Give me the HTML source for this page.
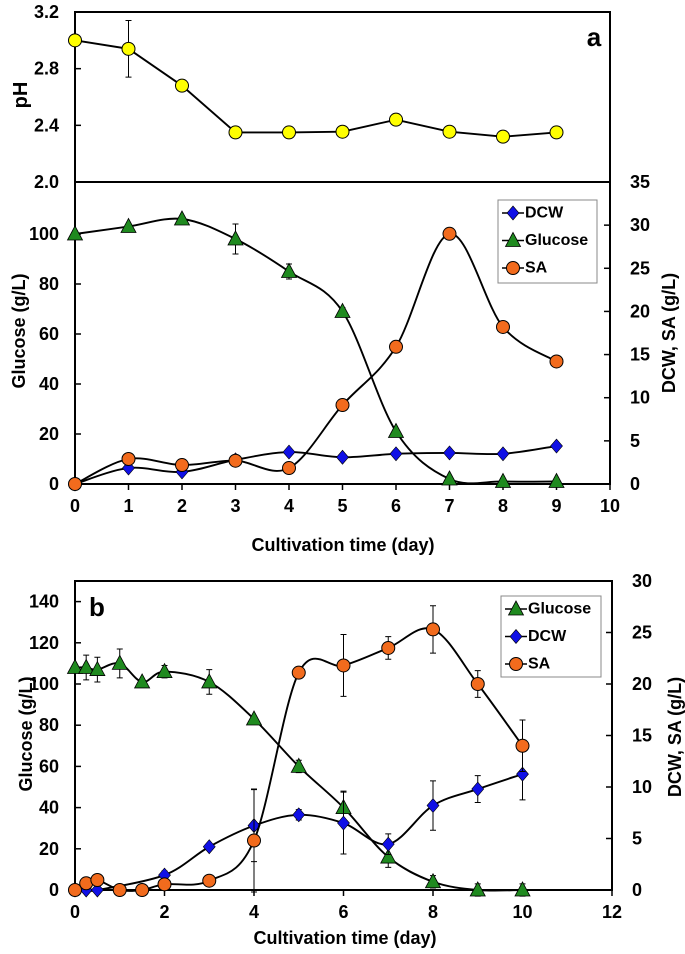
<!DOCTYPE html>
<html><head><meta charset="utf-8"><style>
html,body{margin:0;padding:0;background:#fff}
svg{display:block;font-family:"Liberation Sans",Arial,sans-serif;font-weight:bold}
</style></head><body>
<svg id="c" width="685" height="954" viewBox="0 0 685 954" xmlns="http://www.w3.org/2000/svg"></svg>
<script>
// ---- Panel a data ----
const daysA = [0,1,2,3,4,5,6,7,8,9];
const phA = [3.0,2.94,2.68,2.35,2.35,2.355,2.44,2.355,2.32,2.35];
const phErrA = [0,0.2,0,0,0,0,0,0,0.04,0];
const glucoseA = [100,103,106,98,85,69,21,2,1,1];
const glucoseErrA = [0,0,0,6,3,1.5,0,0,0,0];
const dcwA = [0,1.85,1.4,2.8,3.7,3.1,3.5,3.6,3.5,4.4];
const saA = [0,2.9,2.2,2.7,1.85,9.15,15.9,29,18.2,14.2];
const phTicks = [2.0,2.4,2.8,3.2];
const glucTicksA = [0,20,40,60,80,100];
const rightTicksA = [0,5,10,15,20,25,30,35];
const xTicksA = [0,1,2,3,4,5,6,7,8,9,10];
// ---- Panel b data ----
const glucDaysB = [0,0.25,0.5,1,1.5,2,3,4,5,6,7,8,9,10];
const glucoseB = [108,108,107,110,101,106,101,83,60,40,16,4,0,0];
const glucoseErrB = [0,6,6,7,0,3,6,0,3,8,5,3,3,3];
const dcwDaysB = [0,0.25,0.5,2,3,4,5,6,7,8,9,10];
const dcwB = [0,0,0,1.45,4.2,6.25,7.3,6.5,4.45,8.2,9.8,11.25];
const dcwErrB = [0,0,0,0.4,0,3.5,0.5,3,1,2.4,1.3,2.5];
const saDaysB = [0,0.25,0.5,1,1.5,2,3,4,5,6,7,8,9,10];
const saB = [0,0.65,0.97,0,0,0.55,0.9,4.8,21.1,21.8,23.5,25.3,20,14];
const saErrB = [0,0,0,0,0,0,0,5,0,3,1.1,2.3,1.3,2.5];
const glucTicksB = [0,20,40,60,80,100,120,140];
const rightTicksB = [0,5,10,15,20,25,30];
const xTicksB = [0,2,4,6,8,10,12];

const svg = document.getElementById('c');
const NS = 'http://www.w3.org/2000/svg';
function mk(tag, attrs, parent){
  const e = document.createElementNS(NS, tag);
  for (const k in attrs) e.setAttribute(k, attrs[k]);
  (parent||svg).appendChild(e);
  return e;
}
function txt(x,y,s,size,anchor,name,rot){
  const t = mk('text',{x:x,y:y,'font-size':size,'text-anchor':anchor||'middle','dominant-baseline':'central',fill:'#000'});
  if(rot!==undefined) t.setAttribute('transform','rotate('+rot+' '+x+' '+y+')');
  t.textContent = s;
  
  
  return t;
}
function lin(d0,d1,p0,p1){ return v => p0 + (v-d0)/(d1-d0)*(p1-p0); }
function smooth(pts){
  let d = 'M'+pts[0][0]+','+pts[0][1];
  for(let i=0;i<pts.length-1;i++){
    const p0=pts[i-1]||pts[i], p1=pts[i], p2=pts[i+1], p3=pts[i+2]||p2;
    const t=0.5/3*1.0;
    const c1=[p1[0]+(p2[0]-p0[0])*t, p1[1]+(p2[1]-p0[1])*t];
    const c2=[p2[0]-(p3[0]-p1[0])*t, p2[1]-(p3[1]-p1[1])*t];
    d+=' C'+c1[0]+','+c1[1]+' '+c2[0]+','+c2[1]+' '+p2[0]+','+p2[1];
  }
  return d;
}
function marker(type,x,y,name){
  let e;
  if(type==='circle-y') e=mk('circle',{cx:x,cy:y,r:6.5,fill:'#ffff00',stroke:'#000','stroke-width':1});
  else if(type==='circle-o') e=mk('circle',{cx:x,cy:y,r:6.5,fill:'#f26b1d',stroke:'#000','stroke-width':1});
  else if(type==='tri') e=mk('polygon',{points:(x)+','+(y-8)+' '+(x-7.5)+','+(y+6)+' '+(x+7.5)+','+(y+6),fill:'#1f8a1f',stroke:'#000','stroke-width':0.8});
  else e=mk('polygon',{points:x+','+(y-7)+' '+(x+6)+','+y+' '+x+','+(y+7)+' '+(x-6)+','+y,fill:'#1010e6',stroke:'#000','stroke-width':0.6});
  
  
}
function errbar(x,y0,y1,name){
  const g = mk('path',{d:'M'+x+','+y0+'V'+y1+'M'+(x-3)+','+y0+'H'+(x+3)+'M'+(x-3)+','+y1+'H'+(x+3),stroke:'#000','stroke-width':1,fill:'none'});
  
  
}
function series(xs,ys,errs,sx,sy,type,name,curve){
  const pts = xs.map((d,i)=>[sx(d),sy(ys[i])]);
  const p = mk('path',{d: curve? smooth(pts) : 'M'+pts.map(p=>p.join(',')).join('L'), stroke:'#000','stroke-width':1.9,fill:'none'});
  
  
  xs.forEach((d,i)=>{ if(errs && errs[i]>0) errbar(sx(d),sy(ys[i]+errs[i]),sy(ys[i]-errs[i]),name+'-error-bar'); });
  xs.forEach((d,i)=>marker(type,sx(d),sy(ys[i]),name+'-point'));
}
function frame(x0,y0,x1,y1,name){
  const r = mk('rect',{x:x0,y:y0,width:x1-x0,height:y1-y0,fill:'none',stroke:'#000','stroke-width':2});
  
  
}
function legend(x0,y0,x1,y1,items,name){
  const r = mk('rect',{x:x0,y:y0,width:x1-x0,height:y1-y0,fill:'#fff',stroke:'#888','stroke-width':1});
  
  
  items.forEach((it,i)=>{
    const y = y0+13+i*27.5;
    const l = mk('line',{x1:x0+4,y1:y,x2:x0+26,y2:y,stroke:'#000','stroke-width':1.5});
    
    
    marker(it[1],x0+15,y,'legend-marker');
    txt(x0+27,y,it[0],16,'start','legend-entry-'+it[0].toLowerCase());
  });
}

// ===== Panel a =====
const XA0=75, XA1=610;
const sxA = lin(0,10,XA0,XA1);
const syPh = lin(2.0,3.2,182,12);
const syGA = lin(0,120.8,484,182);
const syRA = lin(0,35,484,182);
frame(XA0,12,XA1,484,'panel-a-frame');
mk('line',{x1:XA0,y1:182,x2:XA1,y2:182,stroke:'#000','stroke-width':2});
phTicks.forEach(v=>{ mk('line',{x1:XA0,y1:syPh(v),x2:XA0+6,y2:syPh(v),stroke:'#000','stroke-width':1.5}); if(v>2.0) txt(59,syPh(v),v.toFixed(1),18,'end','ph-tick-label'); });
txt(59,182,'2.0',18,'end','ph-tick-label');
glucTicksA.forEach(v=>{ mk('line',{x1:XA0,y1:syGA(v),x2:XA0+6,y2:syGA(v),stroke:'#000','stroke-width':1.5}); txt(59,syGA(v),String(v),18,'end','glucose-tick-label'); });
rightTicksA.forEach(v=>{ mk('line',{x1:XA1,y1:syRA(v),x2:XA1-6,y2:syRA(v),stroke:'#000','stroke-width':1.5}); txt(630,syRA(v),String(v),18,'start','right-tick-label'); });
xTicksA.forEach(v=>{ mk('line',{x1:sxA(v),y1:484,x2:sxA(v),y2:490,stroke:'#000','stroke-width':1.5}); txt(sxA(v),506,String(v),18,'middle','x-tick-label'); });
txt(21,95,'pH',20,'middle','ph-axis-title',-90);
txt(19,331,'Glucose (g/L)',18,'middle','glucose-axis-title',-90);
txt(669,333,'DCW, SA (g/L)',18,'middle','right-axis-title',-90);
txt(343,545,'Cultivation time (day)',18,'middle','x-axis-title');
txt(594,37,'a',26,'middle','panel-label-a');
series(daysA,phA,phErrA,sxA,syPh,'circle-y','ph',false);
series(daysA,glucoseA,glucoseErrA,sxA,syGA,'tri','glucose-a',true);
series(daysA,dcwA,null,sxA,syRA,'dia','dcw-a',true);
series(daysA,saA,null,sxA,syRA,'circle-o','sa-a',true);
legend(498,200,597,283,[['DCW','dia'],['Glucose','tri'],['SA','circle-o']],'legend-a');

// ===== Panel b =====
const XB0=75, XB1=612;
const sxB = lin(0,12,XB0,XB1);
const syGB = lin(0,150,890,581);
const syRB = lin(0,30,890,581);
frame(XB0,581,XB1,890,'panel-b-frame');
glucTicksB.forEach(v=>{ mk('line',{x1:XB0,y1:syGB(v),x2:XB0+6,y2:syGB(v),stroke:'#000','stroke-width':1.5}); txt(59,syGB(v),String(v),18,'end','glucose-tick-label'); });
rightTicksB.forEach(v=>{ mk('line',{x1:XB1,y1:syRB(v),x2:XB1-6,y2:syRB(v),stroke:'#000','stroke-width':1.5}); txt(632,syRB(v),String(v),18,'start','right-tick-label'); });
xTicksB.forEach(v=>{ mk('line',{x1:sxB(v),y1:890,x2:sxB(v),y2:896,stroke:'#000','stroke-width':1.5}); txt(sxB(v),912,String(v),18,'middle','x-tick-label'); });
txt(26,734,'Glucose (g/L)',18,'middle','glucose-axis-title',-90);
txt(675,737,'DCW, SA (g/L)',18,'middle','right-axis-title',-90);
txt(345,938,'Cultivation time (day)',18,'middle','x-axis-title');
txt(97,607,'b',26,'middle','panel-label-b');
series(glucDaysB,glucoseB,glucoseErrB,sxB,syGB,'tri','glucose-b',true);
series(dcwDaysB,dcwB,dcwErrB,sxB,syRB,'dia','dcw-b',true);
series(saDaysB,saB,saErrB,sxB,syRB,'circle-o','sa-b',true);
legend(501,596,601,677,[['Glucose','tri'],['DCW','dia'],['SA','circle-o']],'legend-b');
</script>
</body></html>
